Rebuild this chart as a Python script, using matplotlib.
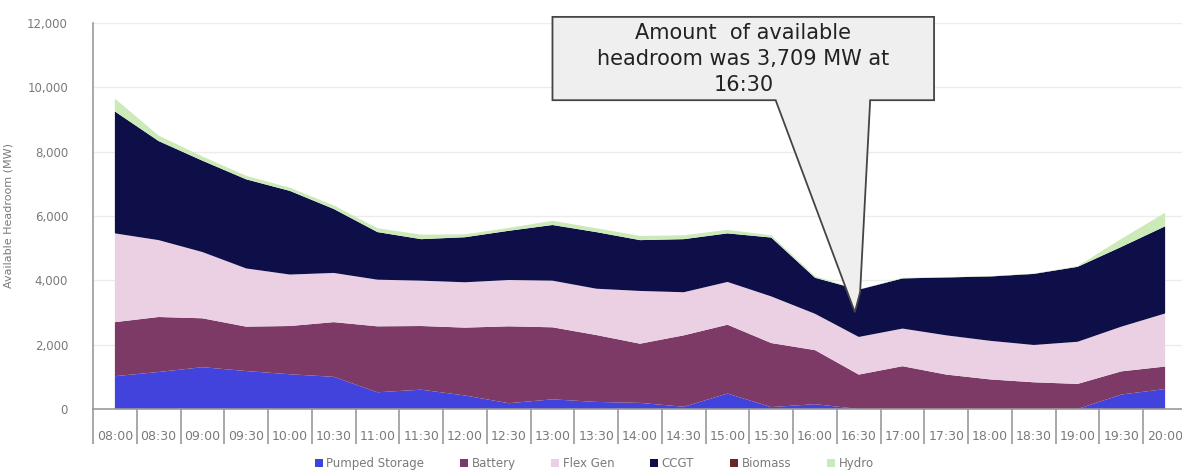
import numpy as np
import matplotlib
matplotlib.use("Agg")
import matplotlib.pyplot as plt
from matplotlib.patches import Polygon

# half-hourly settlement periods
times = ['08:00', '08:30', '09:00', '09:30', '10:00', '10:30', '11:00', '11:30',
         '12:00', '12:30', '13:00', '13:30', '14:00', '14:30', '15:00', '15:30',
         '16:00', '16:30', '17:00', '17:30', '18:00', '18:30', '19:00', '19:30', '20:00']

# available headroom by technology (MW)
pumped_storage = [1020, 1150, 1300, 1180, 1080, 1000, 520, 600, 420, 180, 300, 220, 190,
                  70, 480, 60, 150, 0, 0, 0, 0, 0, 0, 450, 620]
battery = [1680, 1710, 1520, 1380, 1500, 1700, 2050, 1980, 2110, 2390, 2240, 2080, 1840,
           2220, 2140, 1990, 1680, 1070, 1330, 1070, 920, 830, 780, 720, 700]
flex_gen = [2760, 2390, 2060, 1810, 1600, 1530, 1450, 1410, 1410, 1440, 1450, 1440, 1640,
            1340, 1330, 1450, 1130, 1170, 1170, 1220, 1200, 1160, 1310, 1390, 1650]
ccgt = [3790, 3080, 2840, 2770, 2600, 1990, 1480, 1290, 1400, 1530, 1730, 1760, 1580,
        1650, 1510, 1830, 1120, 1469, 1560, 1800, 2000, 2210, 2330, 2480, 2710]
biomass = [0] * 25
hydro = [400, 170, 130, 110, 100, 110, 120, 140, 90, 90, 130, 120, 130, 120, 110, 70, 50,
         0, 20, 10, 10, 10, 20, 250, 420]

labels = ['Pumped Storage', 'Battery', 'Flex Gen', 'CCGT', 'Biomass', 'Hydro']
colors = ['#4242dc', '#7d3a66', '#ead0e2', '#0e0e48', '#6b2525', '#cbeab8']

callout_time = '16:30'

x = np.arange(len(times))
series = [pumped_storage, battery, flex_gen, ccgt, biomass, hydro]
total = np.sum(series, axis=0)
peak_idx = times.index(callout_time)

fig = plt.figure(figsize=(11.82, 4.71), dpi=100)
ax = fig.add_axes([93 / 1182, 62 / 471, 1094 / 1182, 386 / 471])

ax.stackplot(x, *series, colors=colors, labels=labels, linewidth=0)

ax.set_xlim(-0.5, len(times) - 0.5)
ax.set_ylim(0, 12000)
ax.set_yticks(range(0, 12001, 2000))
ax.set_yticklabels([f'{v:,}' for v in range(0, 12001, 2000)])
ax.grid(axis='y', color='#ececec', lw=1)
ax.set_axisbelow(True)

for s in ['top', 'right']:
    ax.spines[s].set_visible(False)
for s in ['left', 'bottom']:
    ax.spines[s].set_color('#9a9a9a')
    ax.spines[s].set_linewidth(1.2)

ax.set_xticks(x)
ax.set_xticklabels(times)
ax.set_xticks(np.arange(-0.5, len(times), 1), minor=True)
ax.tick_params(axis='x', which='major', length=0, pad=15, labelsize=9, labelcolor='#7a7a7a')
ax.tick_params(axis='x', which='minor', length=25, width=1.2, color='#9a9a9a')
ax.tick_params(axis='y', length=0, pad=18, labelsize=8.5, labelcolor='#7a7a7a')
ax.set_ylabel('Available Headroom (MW)', fontsize=8, color='#7a7a7a', labelpad=10)

# callout box with pointer down to the dip
box_l, box_r, box_t, box_b = 10.0, 18.72, 12190, 9600
ptr_l, ptr_r = 15.1, 17.26
callout = Polygon([(box_l, box_t), (box_r, box_t), (box_r, box_b), (ptr_r, box_b),
                   (peak_idx + 0.03, 3630), (peak_idx - 0.09, 3010), (ptr_l, box_b),
                   (box_l, box_b)],
                  closed=True, facecolor='#efefef', edgecolor='#444444', lw=1.3,
                  clip_on=False, zorder=5)
ax.add_patch(callout)
ax.text((box_l + box_r) / 2, 10880,
        f'Amount  of available\nheadroom was {total[peak_idx]:,.0f} MW at\n{callout_time}',
        ha='center', va='center', fontsize=15, color='#222222',
        linespacing=1.4, zorder=6)

ax.legend(loc='center', bbox_to_anchor=(0.458, -0.142), ncol=6, frameon=False,
          fontsize=8.5, labelcolor='#7a7a7a', handlelength=0.7, handleheight=0.7,
          handletextpad=0.3, columnspacing=3.0)

plt.savefig('out.png', dpi=100)
